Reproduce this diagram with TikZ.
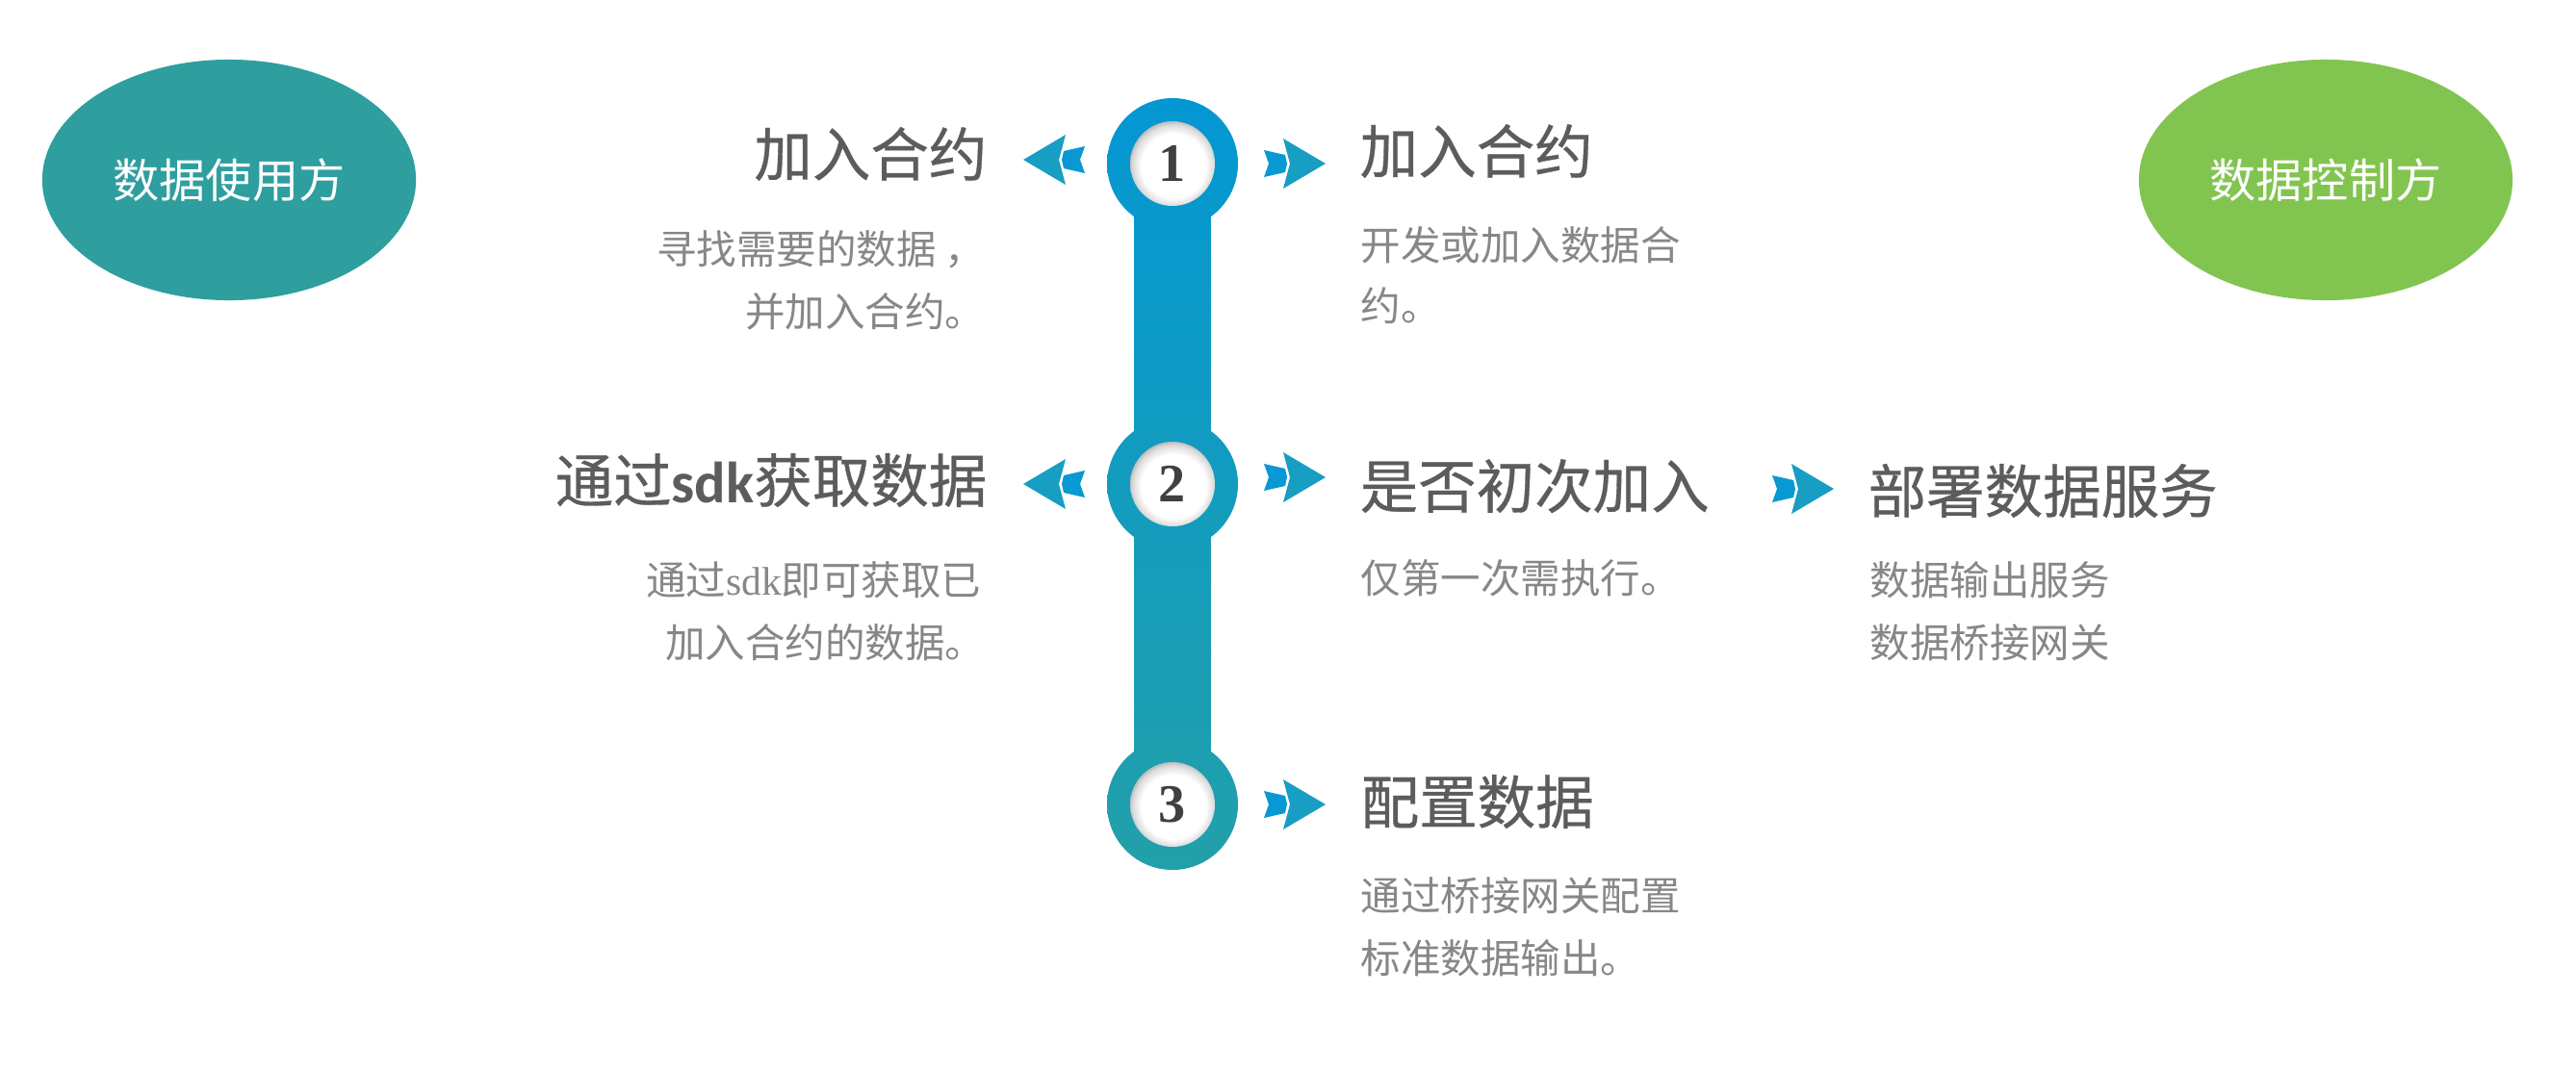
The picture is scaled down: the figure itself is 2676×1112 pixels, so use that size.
\documentclass[tikz,border=0pt]{standalone}
\usepackage{fontspec}
\newfontfamily\cjk{Noto Sans CJK SC}
\newfontfamily\cjkhead[FakeBold=0.5]{Noto Sans CJK SC}
\newfontfamily\numfont{Liberation Serif}
\newfontfamily\sdkbold{Carlito}
\newfontfamily\sdkserif{Liberation Serif}
\usetikzlibrary{shapes.geometric}

\definecolor{stepblue}{HTML}{0397D3}
\definecolor{stepteal}{HTML}{22A0AA}
\definecolor{userteal}{HTML}{2E9E9F}
\definecolor{ownergreen}{HTML}{82C450}
\definecolor{titlegray}{HTML}{5C5C5C}
\definecolor{textgray}{HTML}{878787}
\definecolor{chevblue}{HTML}{0898D3}
\definecolor{chevteal}{HTML}{189DC3}

\pgfdeclareradialshading{dimple}{\pgfpoint{1bp}{-2bp}}{color(0bp)=(white); color(19bp)=(white); color(24bp)=(black!14); color(27bp)=(black!32); color(50bp)=(black!32)}

\tikzset{
  party/.style={ellipse, minimum width=3.88cm, minimum height=2.5cm, inner sep=0pt, text=white, font=\cjk\fontsize{13.7}{16}\selectfont},
  heading/.style={inner sep=0pt, text=titlegray, font=\cjkhead\fontsize{17.2}{20}\selectfont},
  note/.style={inner sep=0pt, text=textgray, font=\cjk\fontsize{11.8}{14}\selectfont},
  stepnum/.style={inner sep=0pt, text=black!75, font=\numfont\bfseries\fontsize{16}{18}\selectfont}
}

\newcommand{\chevron}[2]{% tip, 1 = right, -1 = left
  \begin{scope}[shift={#1}, xscale=#2]
    \fill[chevblue] (-64,-14) -- (-42,-9) -- (-40,0) -- (-42,9) -- (-64,14) -- (-59,0) -- cycle;
    \fill[chevteal] (0,0) -- (-44,-26) -- (-37,0) -- (-44,26) -- cycle;
  \end{scope}}

\begin{document}
\begin{tikzpicture}[x=0.01cm, y=-0.01cm]
	\useasboundingbox[fill=white] (0,0) rectangle (2676,1112);

	\node[party, fill=userteal] (user) at (238,187) {数据使用方};
	\node[party, fill=ownergreen] (owner) at (2416,187) {数据控制方};

	\shade[top color=stepteal!8!stepblue, bottom color=stepteal!92!stepblue] (1178.5,170) rectangle (1257.5,836);
	\shade[top color=stepblue, bottom color=stepteal!17!stepblue] (1218,170) circle (68);
	\shade[top color=stepteal!42!stepblue, bottom color=stepteal!58!stepblue] (1218,503) circle (68);
	\shade[top color=stepteal!83!stepblue, bottom color=stepteal] (1218,836) circle (68);
	\foreach \i/\y in {1/170, 2/503, 3/836} {
		\shade[shading=dimple] (1218,\y) circle (44);
		\node[stepnum] (n\i) at (1218,\y) {\i};
	}

	\chevron{(1063,166)}{-1}
	\chevron{(1377,170)}{1}
	\chevron{(1063,503)}{-1}
	\chevron{(1377,496)}{1}
	\chevron{(1905,508)}{1}
	\chevron{(1377,836)}{1}

	\node[heading, anchor=base east] (t1) at (1026,183) {加入合约};
	\node[note, anchor=base east] (d1a) at (1024,274) {寻找需要的数据 ，};
	\node[note, anchor=base east] (d1b) at (1024,339) {并加入合约。};

	\node[heading, anchor=base west] (t2) at (1412,180) {加入合约};
	\node[note, anchor=base west] (d2a) at (1413,270) {开发或加入数据合};
	\node[note, anchor=base west] (d2b) at (1413,333) {约。};

	\node[heading, anchor=base east] (t3) at (1026,522) {通过{\sdkbold\bfseries sdk}获取数据};
	\node[note, anchor=base east] (d3a) at (1020,618) {通过{\sdkserif sdk}即可获取已};
	\node[note, anchor=base east] (d3b) at (1024,683) {加入合约的数据。};

	\node[heading, anchor=base west] (t4) at (1412,528) {是否初次加入};
	\node[note, anchor=base west] (d4a) at (1413,616) {仅第一次需执行。};

	\node[heading, anchor=base west] (t5) at (1940,533) {部署数据服务};
	\node[note, anchor=base west] (d5a) at (1942,618) {数据输出服务};
	\node[note, anchor=base west] (d5b) at (1942,683) {数据桥接网关};

	\node[heading, anchor=base west] (t6) at (1413,856) {配置数据};
	\node[note, anchor=base west] (d6a) at (1413,946) {通过桥接网关配置};
	\node[note, anchor=base west] (d6b) at (1413,1011) {标准数据输出。};
\end{tikzpicture}
\end{document}
